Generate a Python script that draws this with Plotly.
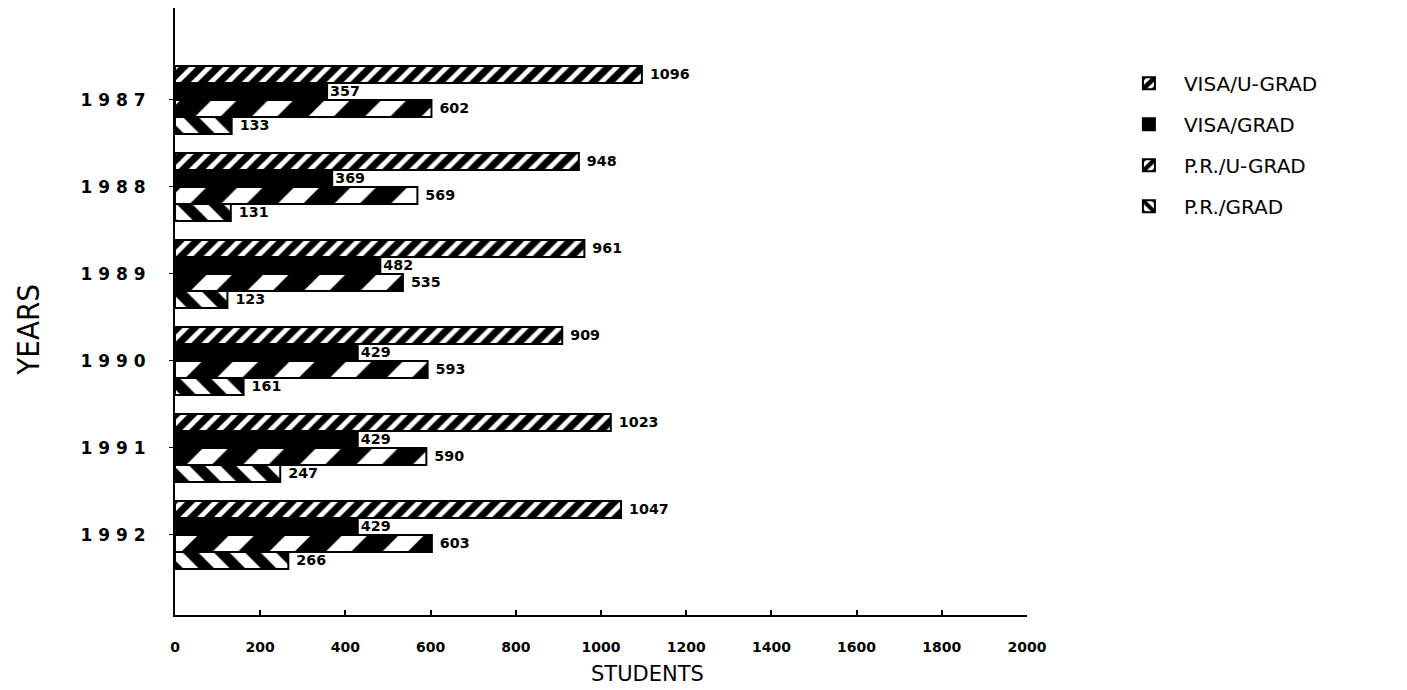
import plotly.graph_objects as go

years = ["1987", "1988", "1989", "1990", "1991", "1992"]
year_labels = ["1 9 8 7", "1 9 8 8", "1 9 8 9", "1 9 9 0", "1 9 9 1", "1 9 9 2"]
series_names = ["VISA/U-GRAD", "VISA/GRAD", "P.R./U-GRAD", "P.R./GRAD"]
visa_ugrad = [1096, 948, 961, 909, 1023, 1047]
visa_grad = [357, 369, 482, 429, 429, 429]
pr_ugrad = [602, 569, 535, 593, 590, 603]
pr_grad = [133, 131, 123, 161, 247, 266]
x_ticks = [0, 200, 400, 600, 800, 1000, 1200, 1400, 1600, 1800, 2000]

values = [visa_ugrad, visa_grad, pr_ugrad, pr_grad]
patterns = [
    dict(shape="/", fgcolor="black", bgcolor="white", size=12, solidity=0.6, fgopacity=1),
    dict(shape="", fgcolor="black", bgcolor="black"),
    dict(shape="/", fgcolor="black", bgcolor="white", size=40, solidity=0.55, fgopacity=1),
    dict(shape="\\", fgcolor="black", bgcolor="white", size=22, solidity=0.5, fgopacity=1),
]

fig = go.Figure()
for i, (name, vals, pat) in enumerate(zip(series_names, values, patterns)):
    pad = "" if name == "VISA/GRAD" else "\u00a0"
    fig.add_trace(go.Bar(
        y=years, x=vals, name=name, orientation="h", legendgroup=f"g{i}",
        marker=dict(color="black" if name == "VISA/GRAD" else "white",
                    line=dict(color="black", width=2), pattern=pat),
        text=[pad + str(v) for v in vals], textposition="outside",
        textfont=dict(family="DejaVu Sans", size=16, color="black", weight="bold"),
        cliponaxis=False,
    ))

fig.update_layout(
    width=1407, height=690,
    margin=dict(l=167, r=388, t=0, b=83),
    paper_bgcolor="white", plot_bgcolor="white",
    barmode="group", bargap=0.22, bargroupgap=0,
    showlegend=True,
    legend=dict(x=1.102, y=0.908, xanchor="left", yanchor="top",
                font=dict(family="DejaVu Sans", size=20, color="black"),
                tracegroupgap=12, traceorder="grouped", itemwidth=60),
    font=dict(family="DejaVu Sans", color="black"),
    annotations=[
        dict(text="STUDENTS", xref="paper", yref="paper", x=0.555, y=-0.098,
             xanchor="center", yanchor="middle", showarrow=False,
             font=dict(family="DejaVu Sans", size=21, color="black")),
        dict(text="YEARS", xref="paper", yref="paper", x=-0.1725, y=0.47,
             xanchor="center", yanchor="middle", showarrow=False, textangle=-90,
             font=dict(family="DejaVu Sans Condensed", size=31, color="black")),
    ],
)
fig.update_xaxes(
    range=[0, 2000], tickvals=x_ticks, ticktext=[str(t) for t in x_ticks],
    showline=True, linecolor="black", linewidth=2, showgrid=False, zeroline=False,
    ticks="inside", ticklen=5, tickcolor="black", tickwidth=2,
    ticklabelstandoff=18,
    tickfont=dict(family="DejaVu Sans", size=14, weight="bold"),
)
fig.update_yaxes(
    range=[5.92, -1.057],
    tickvals=years, ticktext=year_labels,
    showline=True, linecolor="black", linewidth=2, showgrid=False,
    ticks="outside", ticklen=4, tickcolor="black",
    ticklabelstandoff=20,
    tickfont=dict(family="DejaVu Sans", size=17, weight="bold"),
)
fig.write_html("out.html")
